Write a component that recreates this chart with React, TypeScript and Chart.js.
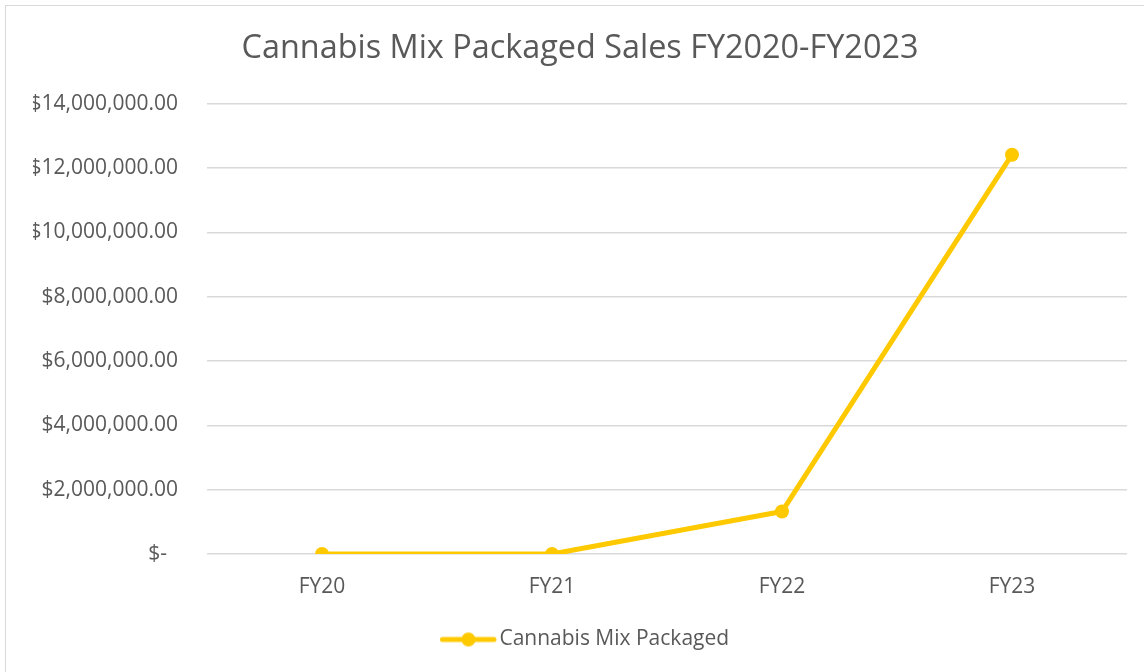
import React, { useEffect, useRef } from "react";
import { Chart, registerables } from "chart.js";

Chart.register(...registerables);

const categories = ["FY20", "FY21", "FY22", "FY23"];
const salesValues = [0, 0, 1320000, 12420000];
const seriesName = "Cannabis Mix Packaged";
const chartTitle = "Cannabis Mix Packaged Sales FY2020-FY2023";
const yMin = 0;
const yMax = 14000000;
const yStep = 2000000;

const GOLD = "#FFC900";
const TEXT = "#595959";
const GRID = "#D9D9D9";
const FONT = "'Open Sans', sans-serif";

function formatMoney(v: number): string {
  if (v === 0) return "$-  ";
  return "$" + v.toLocaleString("en-US", { minimumFractionDigits: 2, maximumFractionDigits: 2 });
}

function makeLegendIcon(): HTMLCanvasElement {
  const c = document.createElement("canvas");
  c.width = 76;
  c.height = 16;
  const ctx = c.getContext("2d")!;
  ctx.strokeStyle = GOLD;
  ctx.lineWidth = 5;
  ctx.lineCap = "round";
  ctx.beginPath();
  ctx.moveTo(20.5, 8);
  ctx.lineTo(72, 8);
  ctx.stroke();
  ctx.fillStyle = GOLD;
  ctx.beginPath();
  ctx.arc(46.5, 8, 7, 0, Math.PI * 2);
  ctx.fill();
  return c;
}

export default function App() {
  const canvasRef = useRef<HTMLCanvasElement | null>(null);

  useEffect(() => {
    if (!canvasRef.current) return;
    const icon = makeLegendIcon();
    const chart = new Chart(canvasRef.current, {
      type: "line",
      data: {
        labels: categories,
        datasets: [
          {
            label: seriesName,
            data: salesValues,
            borderColor: GOLD,
            backgroundColor: GOLD,
            borderWidth: 5,
            borderCapStyle: "round",
            borderJoinStyle: "round",
            pointRadius: 7,
            pointHoverRadius: 7,
            pointBackgroundColor: GOLD,
            pointBorderColor: GOLD,
            pointBorderWidth: 0,
            tension: 0,
          },
        ],
      },
      options: {
        animation: false,
        responsive: false,
        maintainAspectRatio: false,
        layout: { padding: { left: 33, right: 17, top: 0, bottom: 12 } },
        plugins: {
          title: {
            display: true,
            text: chartTitle,
            color: TEXT,
            font: { family: FONT, size: 32.4, weight: "normal" },
            padding: { top: 29, bottom: 36 },
          },
          legend: {
            display: true,
            position: "bottom",
            labels: {
              color: TEXT,
              font: { family: FONT, size: 21 },
              usePointStyle: true,
              pointStyleWidth: 58,
              padding: 10,
              generateLabels: () => [
                {
                  text: seriesName,
                  fillStyle: GOLD,
                  strokeStyle: GOLD,
                  lineWidth: 0,
                  pointStyle: icon,
                  hidden: false,
                  datasetIndex: 0,
                  fontColor: TEXT,
                } as any,
              ],
            },
          },
          tooltip: { enabled: false },
        },
        scales: {
          x: {
            offset: true,
            grid: { display: false, drawTicks: false },
            border: { display: false },
            ticks: {
              color: TEXT,
              font: { family: FONT, size: 21 },
              padding: 20,
            },
            afterFit: (scale: any) => {
              scale.height = 65;
            },
          },
          y: {
            min: yMin,
            max: yMax,
            grid: { color: GRID, lineWidth: 1.5, drawTicks: false },
            border: { display: false },
            ticks: {
              stepSize: yStep,
              color: TEXT,
              font: { family: FONT, size: 21 },
              padding: 29,
              callback: (v: any) => formatMoney(Number(v)),
            },
            afterFit: (scale: any) => {
              scale.width = 174;
            },
          },
        },
      },
    });
    return () => chart.destroy();
  }, []);

  return (
    <div style={{ position: "fixed", left: 0, top: 0, width: 1144, height: 672, background: "#fff" }}>
      <div
        style={{
          position: "absolute",
          left: 5,
          top: 5,
          width: 1150,
          height: 700,
          borderLeft: "1.5px solid #D9D9D9",
          borderTop: "1.5px solid #D9D9D9",
          boxSizing: "border-box",
        }}
      />
      <canvas
        ref={canvasRef}
        width={1144}
        height={672}
        style={{ position: "absolute", left: 0, top: 0, width: 1144, height: 672 }}
      />
    </div>
  );
}
